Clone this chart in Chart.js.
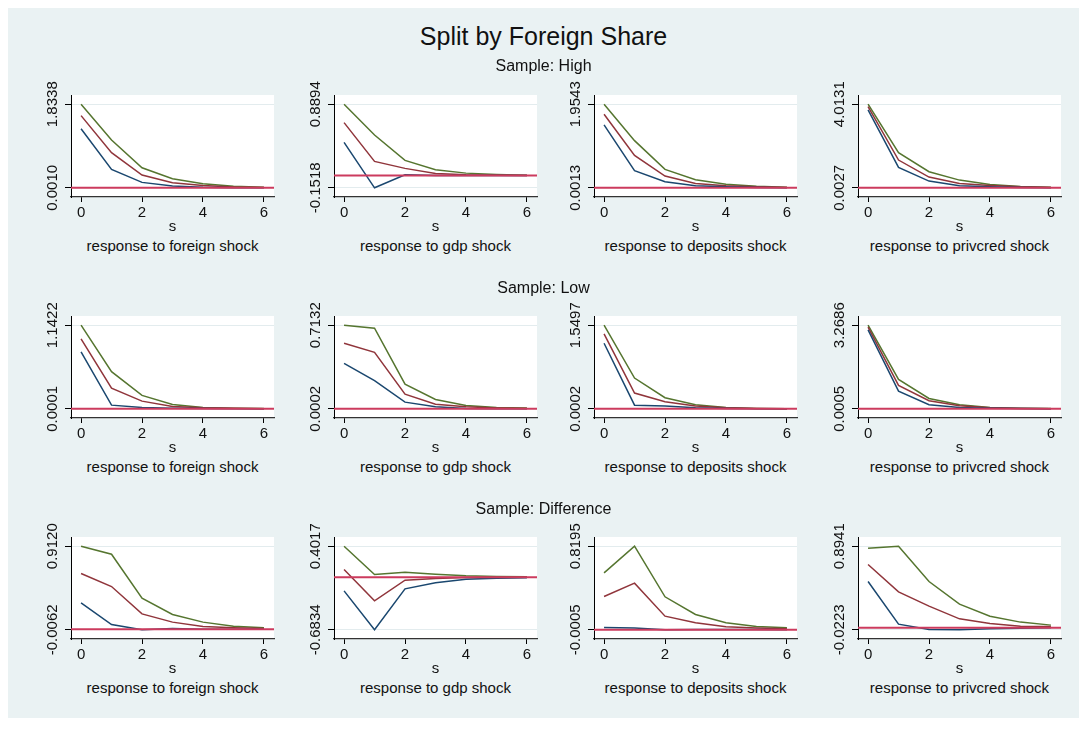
<!DOCTYPE html>
<html>
<head>
<meta charset="utf-8">
<title>Split by Foreign Share</title>
<script src="https://cdn.jsdelivr.net/npm/chart.js@4.4.1/dist/chart.umd.min.js"></script>
<style>
  html, body { margin: 0; padding: 0; background: #ffffff; }
  body { width: 1087px; height: 731px; position: relative; overflow: hidden;
         font-family: "Liberation Sans", Arial, sans-serif; color: #111; }
  #frame { position: absolute; left: 8px; top: 8px; width: 1071px; height: 710px; background: #eaf2f3; }
  .txt { position: absolute; white-space: nowrap; transform: translate(-50%, -50%); line-height: 1; }
  #title { font-size: 25px; }
  .row-title { font-size: 16px; }
  .sub { font-size: 15px; }
  canvas { position: absolute; }
</style>
</head>
<body>
<div id="frame"></div>
<script>
// Horizon (s) and axis ticks
const steps = [0, 1, 2, 3, 4, 5, 6];
const xTicks = [0, 2, 4, 6];

const shocks = ['foreign', 'gdp', 'deposits', 'privcred'];
const samples = ['High', 'Low', 'Difference'];

// Sample: High — lower band, point response, upper band (one row per shock)
const highLower = [
  [1.297, 0.405, 0.120, 0.040, 0.012, 0.004, 0.0010],
  [0.414, -0.1518, 0.010, 0.000, 0.002, 0.002, 0.002],
  [1.470, 0.400, 0.142, 0.048, 0.025, 0.010, 0.0013],
  [3.740, 0.981, 0.324, 0.099, 0.050, 0.020, 0.0027]
];
const highPoint = [
  [1.583, 0.770, 0.280, 0.110, 0.053, 0.020, 0.008],
  [0.660, 0.177, 0.090, 0.027, 0.010, 0.004, 0.002],
  [1.720, 0.759, 0.275, 0.103, 0.048, 0.025, 0.010],
  [3.900, 1.334, 0.516, 0.211, 0.115, 0.050, 0.020]
];
const highUpper = [
  [1.8338, 1.048, 0.440, 0.198, 0.088, 0.037, 0.015],
  [0.8894, 0.506, 0.189, 0.073, 0.031, 0.015, 0.006],
  [1.9543, 1.103, 0.431, 0.189, 0.087, 0.040, 0.017],
  [4.0131, 1.687, 0.773, 0.372, 0.163, 0.067, 0.035]
];
const highTicks = [[0.0010, 1.8338], [-0.1518, 0.8894], [0.0013, 1.9543], [0.0027, 4.0131]];

// Sample: Low
const lowLower = [
  [0.777, 0.050, 0.018, 0.009, 0.005, 0.002, 0.0001],
  [0.388, 0.240, 0.057, 0.017, 0.003, 0.001, 0.0002],
  [1.215, 0.068, 0.050, 0.019, 0.006, 0.002, 0.0002],
  [3.085, 0.693, 0.157, 0.053, 0.027, 0.010, 0.0005]
];
const lowPoint = [
  [0.955, 0.283, 0.105, 0.032, 0.014, 0.006, 0.002],
  [0.559, 0.482, 0.125, 0.040, 0.017, 0.008, 0.003],
  [1.389, 0.292, 0.130, 0.050, 0.019, 0.008, 0.002],
  [3.190, 0.916, 0.314, 0.118, 0.040, 0.015, 0.006]
];
const lowUpper = [
  [1.1422, 0.507, 0.183, 0.059, 0.018, 0.009, 0.003],
  [0.7132, 0.688, 0.211, 0.080, 0.029, 0.012, 0.006],
  [1.5497, 0.571, 0.205, 0.075, 0.025, 0.008, 0.003],
  [3.2686, 1.151, 0.406, 0.157, 0.053, 0.027, 0.010]
];
const lowTicks = [[0.0001, 1.1422], [0.0002, 0.7132], [0.0002, 1.5497], [0.0005, 3.2686]];

// Sample: Difference
const diffLower = [
  [0.290, 0.052, -0.0062, 0.008, 0.001, 0.001, 0.001],
  [-0.178, -0.6834, -0.152, -0.074, -0.026, -0.013, -0.009],
  [0.0224, 0.016, -0.0005, 0.003, 0.003, 0.002, 0.001],
  [0.507, 0.040, -0.019, -0.0223, -0.011, -0.004, 0.000]
];
const diffPoint = [
  [0.612, 0.469, 0.169, 0.078, 0.030, 0.016, 0.009],
  [0.099, -0.307, -0.039, -0.018, -0.005, -0.004, 0.000],
  [0.326, 0.457, 0.133, 0.068, 0.029, 0.016, 0.009],
  [0.693, 0.394, 0.237, 0.098, 0.047, 0.018, 0.014]
];
const diffUpper = [
  [0.9120, 0.824, 0.341, 0.162, 0.078, 0.034, 0.016],
  [0.4017, 0.034, 0.064, 0.038, 0.017, 0.008, 0.004],
  [0.558, 0.8195, 0.323, 0.150, 0.068, 0.032, 0.019],
  [0.872, 0.8941, 0.507, 0.259, 0.127, 0.062, 0.029]
];
const diffTicks = [[-0.0062, 0.9120], [-0.6834, 0.4017], [-0.0005, 0.8195], [-0.0223, 0.8941]];

const rows = [
  { lower: highLower, point: highPoint, upper: highUpper, ticks: highTicks },
  { lower: lowLower, point: lowPoint, upper: lowUpper, ticks: lowTicks },
  { lower: diffLower, point: diffPoint, upper: diffUpper, ticks: diffTicks }
];

// Layout of the 3 x 4 grid of plot regions
const plotLeft = [71, 334, 594, 858];
const plotTop = [95, 316, 537];
const plotW = 203, plotH = 102;
const padTop = 26, padRight = 7, yAxisW = 45, xAxisH = 39;
const rowTitleY = [66, 288, 509];

const colors = { lower: '#1a476f', point: '#90353b', upper: '#55752f', zero: '#cc3b5e' };
const FONT = '"Liberation Sans", Arial, sans-serif';

function addText(cls, text, x, y, id) {
  const d = document.createElement('div');
  d.className = 'txt ' + cls;
  if (id) d.id = id;
  d.textContent = text;
  d.style.left = x + 'px';
  d.style.top = y + 'px';
  document.body.appendChild(d);
}

const fmt = v => v.toFixed(4);

// White plot region
const plotBg = {
  id: 'plotBg',
  beforeDraw(chart) {
    const a = chart.chartArea, ctx = chart.ctx;
    ctx.save();
    ctx.fillStyle = '#ffffff';
    ctx.fillRect(a.left, a.top, a.right - a.left, a.bottom - a.top);
    ctx.restore();
  }
};

// Reference line at zero across the plot region
const zeroLine = {
  id: 'zeroLine',
  afterDatasetsDraw(chart) {
    const y = chart.scales.y.getPixelForValue(0);
    const a = chart.chartArea, ctx = chart.ctx;
    ctx.save();
    ctx.strokeStyle = colors.zero;
    ctx.lineWidth = 2;
    ctx.beginPath();
    ctx.moveTo(a.left, y);
    ctx.lineTo(a.right, y);
    ctx.stroke();
    ctx.restore();
  }
};

// Vertical (rotated) y tick labels
const yLabels = {
  id: 'yLabels',
  afterDraw(chart) {
    const sc = chart.scales.y, ctx = chart.ctx;
    ctx.save();
    ctx.fillStyle = '#111';
    ctx.font = '15px ' + FONT;
    ctx.textAlign = 'center';
    ctx.textBaseline = 'middle';
    sc.ticks.forEach(t => {
      const y = sc.getPixelForValue(t.value);
      ctx.save();
      ctx.translate(sc.right - 18, y);
      ctx.rotate(-Math.PI / 2);
      ctx.fillText(fmt(t.value), 0, 0);
      ctx.restore();
    });
    ctx.restore();
  }
};

rows.forEach((row, r) => {
  shocks.forEach((shock, c) => {
    const pl = plotLeft[c], pt = plotTop[r];
    const cv = document.createElement('canvas');
    const w = yAxisW + plotW + padRight, h = padTop + plotH + xAxisH;
    cv.width = w; cv.height = h;
    cv.style.left = (pl - yAxisW) + 'px';
    cv.style.top = (pt - padTop) + 'px';
    cv.style.width = w + 'px';
    cv.style.height = h + 'px';
    document.body.appendChild(cv);

    const [lo, hi] = row.ticks[c];
    const pad = (hi - lo) * 0.11;
    const mk = (arr, col) => ({
      data: steps.map((s, i) => ({ x: s, y: arr[c][i] })),
      borderColor: col, borderWidth: 1.5, pointRadius: 0, fill: false, tension: 0
    });

    new Chart(cv, {
      type: 'line',
      data: { datasets: [mk(row.lower, colors.lower), mk(row.point, colors.point), mk(row.upper, colors.upper)] },
      options: {
        responsive: false, animation: false, devicePixelRatio: 1,
        layout: { padding: { top: padTop, right: padRight, left: 0, bottom: 0 } },
        plugins: { legend: { display: false }, tooltip: { enabled: false }, title: { display: false } },
        scales: {
          x: {
            type: 'linear', min: -0.33, max: 6.33,
            afterBuildTicks: sc => { sc.ticks = xTicks.map(v => ({ value: v })); },
            afterFit: sc => { sc.height = xAxisH; },
            ticks: { color: '#111', font: { family: FONT, size: 15 }, padding: 2, maxRotation: 0, autoSkip: false,
                     callback: v => String(v) },
            grid: { drawOnChartArea: false, drawTicks: true, tickLength: 5, tickColor: '#000' },
            border: { display: true, color: '#333', width: 1.2 },
            title: { display: true, text: 's', color: '#111', font: { family: FONT, size: 15 }, padding: 0 }
          },
          y: {
            type: 'linear', min: lo - pad, max: hi + pad,
            afterBuildTicks: sc => { sc.ticks = [lo, hi].map(v => ({ value: v })); },
            afterFit: sc => { sc.width = yAxisW; },
            ticks: { color: 'rgba(0,0,0,0)', font: { family: FONT, size: 15 }, callback: v => fmt(v) },
            grid: { color: '#e3ecee', lineWidth: 1, drawTicks: true, tickLength: 6, tickColor: '#000' },
            border: { display: true, color: '#000', width: 1 }
          }
        }
      },
      plugins: [plotBg, zeroLine, yLabels]
    });

    addText('sub', 'response to ' + shock + ' shock', pl + plotW / 2, pt + plotH + 48);
  });
});

// Headings are added last so they sit above the panel canvases
addText('', 'Split by Foreign Share', 543.5, 36, 'title');
samples.forEach((s, r) => addText('row-title', 'Sample: ' + s, 543.5, rowTitleY[r]));
</script>
</body>
</html>
